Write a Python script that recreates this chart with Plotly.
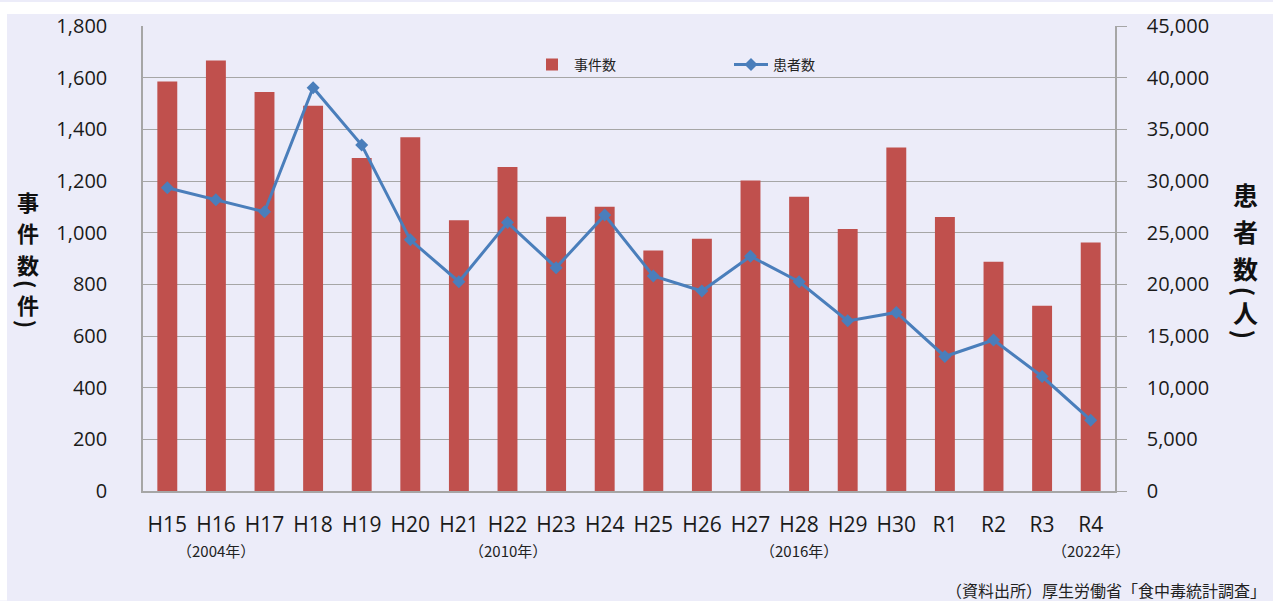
import plotly.graph_objects as go

categories = ["H15", "H16", "H17", "H18", "H19", "H20", "H21", "H22", "H23", "H24",
              "H25", "H26", "H27", "H28", "H29", "H30", "R1", "R2", "R3", "R4"]
incidents = [1585, 1666, 1545, 1491, 1289, 1369, 1048, 1254, 1062, 1100,
             931, 976, 1202, 1139, 1014, 1330, 1061, 887, 717, 962]
patients = [29355, 28175, 27019, 39026, 33477, 24303, 20249, 25972, 21616, 26699,
            20802, 19355, 22718, 20252, 16464, 17282, 13018, 14613, 11080, 6856]
left_ticks = list(range(0, 1801, 200))
right_ticks = list(range(0, 45001, 5000))
year_notes = [("H16", "（2004年）"), ("H22", "（2010年）"), ("H28", "（2016年）"), ("R4", "（2022年）")]

W, H = 1273, 601
ML, MR, MT, MB = 143, 158, 24, 110
PW, PH = W - ML - MR, H - MT - MB

def px(x):
    return (x - ML) / PW

def py(y):
    return (H - MB - y) / PH

BG = "#ECECF9"
CJK = "Noto Sans CJK JP"
NUM = "Open Sans"

fig = go.Figure()
fig.add_trace(go.Bar(x=categories, y=incidents, name="事件数", marker_color="#C0504D",
                     marker_line_width=0, yaxis="y"))
fig.add_trace(go.Scatter(x=categories, y=patients, name="患者数", yaxis="y2",
                         mode="lines+markers",
                         line=dict(color="#4A7EBB", width=3),
                         marker=dict(symbol="diamond", size=10, color="#4A7EBB")))

annotations = []
for cat, txt in year_notes:
    annotations.append(dict(x=cat, xref="x", y=py(551), yref="paper", text=txt,
                            showarrow=False, font=dict(family=CJK, size=15, color="#222"),
                            xanchor="center", yanchor="middle"))

def stacked(chars, xc, size):
    for ch, yy, rot in chars:
        annotations.append(dict(x=px(xc), xref="paper", y=py(yy), yref="paper", text="<b>%s</b>" % ch,
                                showarrow=False, textangle=rot,
                                font=dict(family=CJK, size=size, color="#111"),
                                xanchor="center", yanchor="middle"))

stacked([("事", 200, 0), ("件", 231, 0), ("数", 263, 0), ("(", 283, 90), ("件", 303, 0), (")", 323, 90)],
        28, 22)
stacked([("患", 193, 0), ("者", 230, 0), ("数", 267, 0), ("(", 290, 90), ("人", 311, 0), (")", 333, 90)],
        1245, 25)

annotations.append(dict(x=px(1268), xref="paper", y=py(590), yref="paper",
                        text="（資料出所）厚生労働省「食中毒統計調査」",
                        showarrow=False, font=dict(family=CJK, size=16, color="#222"),
                        xanchor="right", yanchor="middle"))

shapes = [
    dict(type="rect", xref="paper", yref="paper", x0=px(0), x1=px(W), y0=py(12), y1=py(0),
         fillcolor="white", line_width=0, layer="below"),
    dict(type="rect", xref="paper", yref="paper", x0=px(0), x1=px(7), y0=py(H), y1=py(0),
         fillcolor="white", line_width=0, layer="below"),
]

fig.update_layout(
    width=W, height=H,
    margin=dict(l=ML, r=MR, t=MT, b=MB, pad=0),
    paper_bgcolor=BG, plot_bgcolor=BG,
    bargap=0.59,
    showlegend=True,
    legend=dict(orientation="h", x=px(530), y=py(63), xanchor="left", yanchor="middle",
                bgcolor="rgba(0,0,0,0)", font=dict(family=CJK, size=14, color="#222"),
                entrywidth=150, entrywidthmode="pixels", itemwidth=34),
    xaxis=dict(type="category", range=[-0.5, len(categories) - 0.5],
               showgrid=False, showline=True, linecolor="#A6A6A6", linewidth=1.5,
               ticks="", tickfont=dict(family=NUM, size=21, color="#1a1a1a"),
               ticklabelstandoff=14, zeroline=False),
    yaxis=dict(range=[0, 1800], tickvals=left_ticks, tickformat=",d", showgrid=True,
               gridcolor="#A6A6A6", gridwidth=1, showline=True, linecolor="#A6A6A6", linewidth=1.5,
               ticks="", tickfont=dict(family=NUM, size=20, color="#1a1a1a"),
               ticklabelstandoff=30, zeroline=False),
    yaxis2=dict(range=[0, 45000], tickvals=right_ticks, tickformat=",d", overlaying="y", side="right",
                showgrid=False, showline=True, linecolor="#A6A6A6", linewidth=1.5,
                ticks="outside", ticklen=10, tickcolor="#A6A6A6",
                tickfont=dict(family=NUM, size=20, color="#1a1a1a"),
                ticklabelstandoff=16, zeroline=False),
    annotations=annotations,
    shapes=shapes,
)

fig.write_html("out.html")
